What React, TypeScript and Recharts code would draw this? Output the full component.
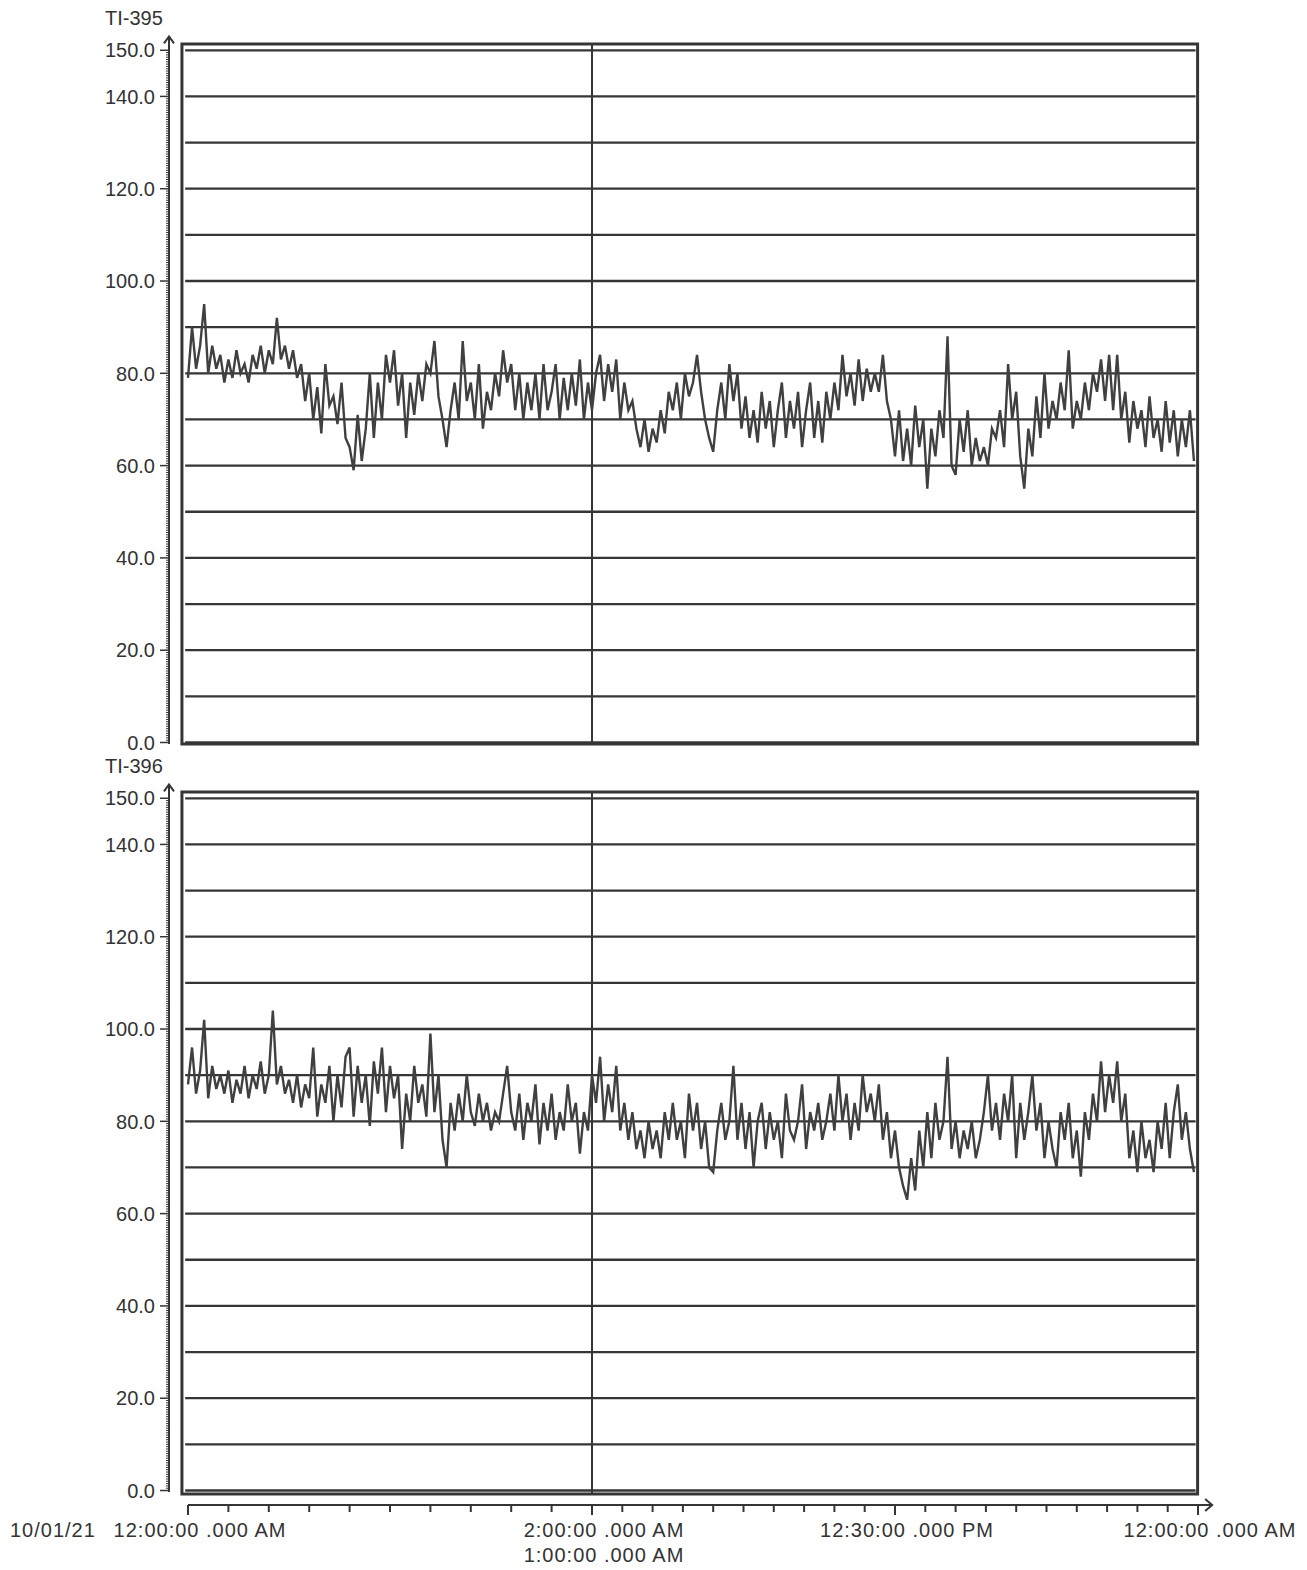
import { LineChart, Line, XAxis, YAxis, ReferenceLine, ReferenceArea } from 'recharts';

// TI-395 samples, left to right
const ti395 = [
  79, 90, 81, 86, 95, 80, 86, 81, 84, 78,
  83, 79, 85, 80, 82, 78, 84, 81, 86, 80,
  85, 82, 92, 83, 86, 81, 85, 79, 82, 74,
  80, 70, 77, 67, 82, 73, 75, 69, 78, 66,
  64, 59, 71, 61, 68, 80, 66, 78, 70, 84,
  78, 85, 73, 80, 66, 78, 71, 80, 74, 82,
  80, 87, 75, 70, 64, 72, 78, 70, 87, 74,
  78, 70, 82, 68, 76, 72, 80, 75, 85, 78,
  82, 72, 80, 70, 78, 72, 80, 70, 82, 72,
  76, 82, 70, 79, 72, 80, 73, 83, 70, 78,
  72, 80, 84, 74, 82, 76, 83, 70, 78, 72,
  74, 68, 64, 70, 63, 68, 65, 72, 67, 76,
  72, 78, 70, 80, 75, 78, 84, 76, 70, 66,
  63, 72, 78, 70, 82, 74, 80, 68, 75, 66,
  72, 65, 76, 68, 74, 64, 72, 78, 66, 74,
  68, 76, 64, 72, 78, 66, 74, 65, 76, 70,
  78, 72, 84, 75, 80, 73, 83, 74, 81, 76,
  80, 76, 84, 74, 70, 62, 72, 61, 68, 60,
  73, 64, 70, 55, 68, 62, 72, 66, 88, 60,
  58, 70, 63, 72, 60, 66, 61, 64, 60, 68,
  66, 72, 64, 82, 70, 76, 62, 55, 68, 62,
  75, 66, 80, 68, 74, 70, 78, 72, 85, 68,
  74, 70, 78, 72, 80, 76, 83, 74, 84, 72,
  84, 70, 76, 65, 74, 68, 72, 64, 75, 66,
  70, 63, 74, 65, 72, 62, 70, 64, 72, 61,
];

// TI-396 samples, left to right
const ti396 = [
  88, 96, 86, 91, 102, 85, 92, 87, 90, 86,
  91, 84, 89, 86, 92, 85, 90, 87, 93, 86,
  90, 104, 88, 92, 86, 89, 84, 90, 83, 88,
  85, 96, 81, 88, 84, 92, 80, 90, 83, 94,
  96, 81, 92, 84, 90, 79, 93, 86, 96, 82,
  92, 85, 90, 74, 86, 80, 92, 84, 88, 81,
  99, 82, 90, 76, 70, 84, 78, 86, 80, 90,
  82, 79, 86, 80, 84, 78, 82, 80, 86, 92,
  82, 78, 86, 76, 84, 80, 88, 75, 84, 78,
  86, 76, 82, 78, 88, 80, 84, 73, 82, 78,
  90, 84, 94, 80, 88, 82, 92, 78, 84, 76,
  82, 74, 78, 72, 80, 74, 78, 72, 82, 76,
  84, 76, 80, 72, 86, 78, 84, 74, 80, 70,
  69, 78, 84, 76, 80, 92, 76, 84, 74, 82,
  70, 80, 84, 74, 82, 76, 80, 72, 86, 78,
  76, 80, 88, 74, 82, 78, 84, 76, 80, 86,
  78, 90, 80, 86, 76, 84, 78, 90, 82, 86,
  80, 88, 76, 82, 72, 78, 70, 66, 63, 72,
  65, 78, 70, 82, 72, 84, 76, 80, 94, 74,
  80, 72, 78, 74, 80, 72, 76, 82, 90, 78,
  84, 76, 86, 80, 90, 72, 84, 76, 82, 90,
  78, 84, 72, 80, 74, 70, 82, 76, 84, 72,
  78, 68, 82, 76, 86, 80, 93, 82, 90, 84,
  93, 80, 86, 72, 78, 69, 80, 72, 76, 69,
  80, 74, 84, 72, 82, 88, 76, 82, 74, 69,
];

const yLabelTicks = [0, 20, 40, 60, 80, 100, 120, 140, 150];
const gridValues = [0, 10, 20, 30, 40, 50, 60, 70, 80, 90, 100, 110, 120, 130, 140, 150];
const xMajorTicks = [0, 100, 175, 250];
const xTickLabels = ['12:00:00 .000 AM', '2:00:00 .000 AM', '12:30:00 .000 PM', '12:00:00 .000 AM'];
const xTickLabels2 = ['', '1:00:00 .000 AM', '', ''];
const dateLabel = '10/01/21';

const INK = '#353535';
const TEXT = '#333';
const FONT = '"Liberation Sans", Arial, sans-serif';

const yMinorTicks = Array.from({ length: 301 }, (_, i) => i / 2);
const xTicks = xMajorTicks
  .slice(0, -1)
  .flatMap((t, k) => Array.from({ length: 10 }, (_, j) => t + ((xMajorTicks[k + 1] - t) * j) / 10))
  .concat(xMajorTicks[xMajorTicks.length - 1]);

const X_DOMAIN: [number, number] = [-4.703, 250];
const FRAME_X1 = -1.5;
const FRAME_X2 = 249.9;
const GRID_X1 = -0.7;
const GRID_X2 = 249.4;
const Y_TOP = 151.36;

function YTick({ x, y, payload }: any) {
  const v = payload.value;
  const major = yLabelTicks.includes(v);
  return (
    <g>
      <line x1={x - (major ? 9 : 3)} y1={y} x2={x} y2={y} stroke={INK} strokeWidth={major ? 1.5 : 1} />
      {major && (
        <text x={x - 14} y={y} dy="0.36em" textAnchor="end" fontSize={20} fontFamily={FONT} fill={TEXT}>
          {v.toFixed(1)}
        </text>
      )}
    </g>
  );
}

function XTick({ x, y, payload }: any) {
  const k = xMajorTicks.indexOf(payload.value);
  const txt = { fontSize: 20, fontFamily: FONT, fill: TEXT, letterSpacing: 1 };
  return (
    <g>
      <line x1={x} y1={y} x2={x} y2={y + (k >= 0 ? 10 : 7)} stroke={INK} strokeWidth={2} />
      {k === 0 && (
        <text x={x - 178} y={y + 25} dy="0.36em" textAnchor="start" {...txt}>
          {dateLabel}
        </text>
      )}
      {k >= 0 && (
        <text x={x + 12} y={y + 25} dy="0.36em" textAnchor="middle" {...txt}>
          {xTickLabels[k]}
        </text>
      )}
      {k >= 0 && xTickLabels2[k] && (
        <text x={x + 12} y={y + 50} dy="0.36em" textAnchor="middle" {...txt}>
          {xTickLabels2[k]}
        </text>
      )}
    </g>
  );
}

const yAxisArrow = (p: any) => (
  <g>
    <line x1={p.x1} y1={p.y1} x2={p.x2} y2={p.y2} stroke={INK} strokeWidth={2} />
    <path d={`M${p.x2 - 5},${p.y2 + 7} L${p.x2},${p.y2} L${p.x2 + 5},${p.y2 + 7}`} fill="none" stroke={INK} strokeWidth={2} />
  </g>
);

const xAxisArrow = (p: any) => (
  <g>
    <line x1={p.x1} y1={p.y1} x2={p.x2} y2={p.y2} stroke={INK} strokeWidth={2} />
    <path d={`M${p.x2 - 7},${p.y2 - 6} L${p.x2},${p.y2} L${p.x2 - 7},${p.y2 + 6}`} fill="none" stroke={INK} strokeWidth={2} />
  </g>
);

interface PanelProps {
  title: string;
  values: number[];
  top: number;
  height: number;
  marginTop: number;
  yMin: number;
  frameY1: number;
  showXAxis: boolean;
}

function Panel({ title, values, top, height, marginTop, yMin, frameY1, showXAxis }: PanelProps) {
  const data = values.map((v, i) => ({ t: i, v }));
  return (
    <div style={{ position: 'absolute', left: 0, top, width: 1307, height }}>
      <div
        style={{
          position: 'absolute',
          left: 105,
          top: marginTop - 37,
          fontFamily: FONT,
          fontSize: 20,
          lineHeight: '22px',
          color: TEXT,
        }}
      >
        {title}
      </div>
      <LineChart
        width={1307}
        height={height}
        data={data}
        margin={{ top: marginTop, right: 109, left: 0, bottom: showXAxis ? 0 : 16 }}
      >
        <XAxis
          dataKey="t"
          type="number"
          domain={X_DOMAIN}
          allowDataOverflow
          hide={!showXAxis}
          height={65}
          ticks={xTicks}
          interval={0}
          tick={XTick}
          tickLine={false}
          axisLine={false}
          tickSize={0}
          tickMargin={0}
        />
        <YAxis
          type="number"
          domain={[yMin, Y_TOP]}
          allowDataOverflow
          width={169}
          ticks={yMinorTicks}
          interval={0}
          tick={YTick}
          tickLine={false}
          axisLine={false}
          tickSize={0}
          tickMargin={0}
        />
        <ReferenceArea
          x1={FRAME_X1}
          x2={FRAME_X2}
          y1={frameY1}
          y2={Y_TOP}
          fill="none"
          stroke={INK}
          strokeWidth={3}
          ifOverflow="visible"
        />
        {gridValues.map((g) => (
          <ReferenceLine
            key={g}
            segment={[{ x: GRID_X1, y: g }, { x: GRID_X2, y: g }]}
            stroke={INK}
            strokeWidth={2.3}
          />
        ))}
        <ReferenceLine
          segment={[{ x: 100, y: frameY1 }, { x: 100, y: Y_TOP }]}
          stroke={INK}
          strokeWidth={2}
        />
        <ReferenceLine
          segment={[{ x: X_DOMAIN[0], y: -0.3 }, { x: X_DOMAIN[0], y: 153 }]}
          shape={yAxisArrow}
          ifOverflow="visible"
        />
        {showXAxis && (
          <ReferenceLine
            segment={[{ x: 0, y: yMin }, { x: 253.5, y: yMin }]}
            shape={xAxisArrow}
            ifOverflow="visible"
          />
        )}
        <Line
          dataKey="v"
          type="linear"
          stroke="#404040"
          strokeWidth={2.4}
          dot={false}
          isAnimationActive={false}
        />
      </LineChart>
    </div>
  );
}

export default function App() {
  return (
    <div style={{ position: 'absolute', left: 0, top: 0, width: 1307, height: 1570, background: '#fff' }}>
      <Panel title="TI-395" values={ti395} top={0} height={760} marginTop={44} yMin={-0.325} frameY1={-0.325} showXAxis={false} />
      <Panel title="TI-396" values={ti396} top={760} height={810} marginTop={32} yMin={-3.14} frameY1={-0.76} showXAxis />
    </div>
  );
}
